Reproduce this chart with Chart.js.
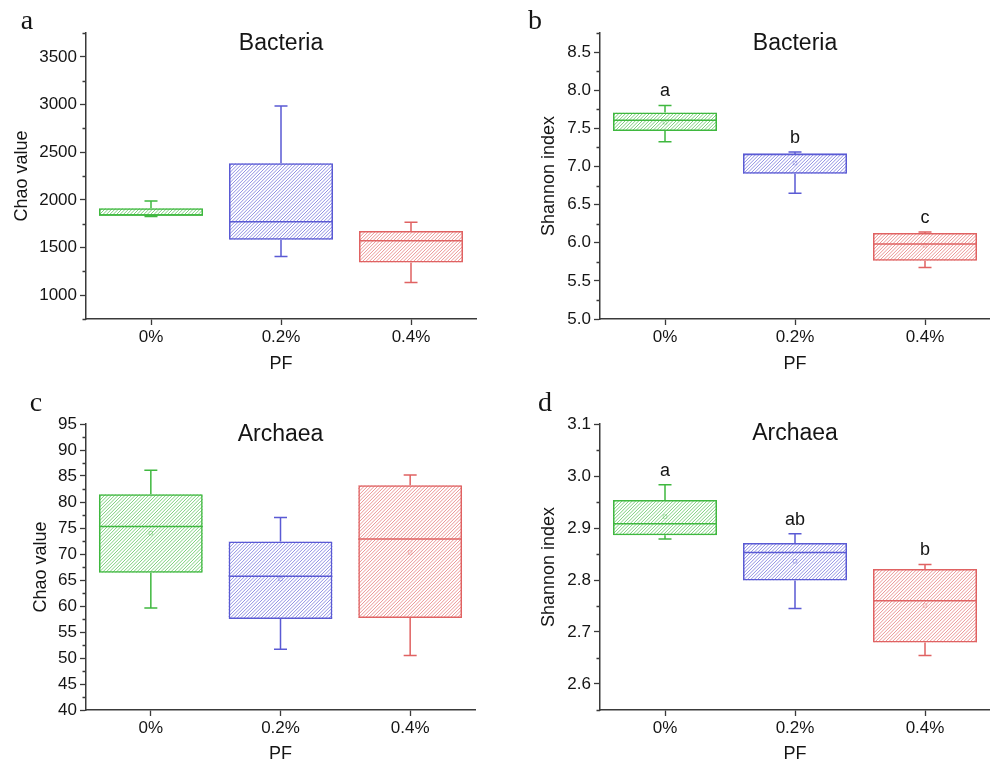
<!DOCTYPE html>
<html><head><meta charset="utf-8">
<script src="https://cdn.jsdelivr.net/npm/chart.js@4.4.0/dist/chart.umd.min.js"></script>
<style>
html,body{margin:0;padding:0;background:#fff;}
#wrap{position:relative;width:990px;height:763px;overflow:hidden;}
canvas{position:absolute;}
</style></head><body>
<div id="wrap">
<canvas id="ca" width="495" height="380" style="left:0;top:0"></canvas>
<canvas id="cb" width="500" height="380" style="left:495px;top:0"></canvas>
<canvas id="cc" width="495" height="383" style="left:0;top:380px"></canvas>
<canvas id="cd" width="500" height="383" style="left:495px;top:380px"></canvas>
</div>
<script>
// ---------- data ----------
const categories = ['0%', '0.2%', '0.4%'];

// a: Bacteria Chao
const chaoBacMin    = [1824, 1405, 1132];
const chaoBacQ1     = [1834, 1580, 1342];
const chaoBacMedian = [1840, 1771, 1572];
const chaoBacQ3     = [1912, 2384, 1674];
const chaoBacMax    = [1988, 2985, 1765];
const chaoBacMean   = [null, null, null];
const chaoBacTicks  = [1000, 1500, 2000, 2500, 3000, 3500];

// b: Bacteria Shannon
const shanBacMin    = [7.325, 6.65, 5.676];
const shanBacQ1     = [7.465, 6.904, 5.764];
const shanBacMedian = [7.605, 7.16, 5.983];
const shanBacQ3     = [7.706, 7.167, 6.127];
const shanBacMax    = [7.80, 7.19, 6.14];
const shanBacMean   = [7.58, 7.045, 5.965];
const shanBacLetters = ['a', 'b', 'c'];
const shanBacTicks  = [5.0, 5.5, 6.0, 6.5, 7.0, 7.5, 8.0, 8.5];

// c: Archaea Chao
const chaoArcMin    = [59.6, 51.7, 50.5];
const chaoArcQ1     = [66.4, 57.5, 57.7];
const chaoArcMedian = [75.3, 65.7, 72.9];
const chaoArcQ3     = [81.5, 72.4, 83.2];
const chaoArcMax    = [86.1, 77.0, 85.2];
const chaoArcMean   = [74.0, 65.2, 70.3];
const chaoArcTicks  = [40, 45, 50, 55, 60, 65, 70, 75, 80, 85, 90, 95];

// d: Archaea Shannon
const shanArcMin    = [2.879, 2.745, 2.655];
const shanArcQ1     = [2.886, 2.799, 2.680];
const shanArcMedian = [2.908, 2.853, 2.760];
const shanArcQ3     = [2.954, 2.871, 2.821];
const shanArcMax    = [2.983, 2.889, 2.830];
const shanArcMean   = [2.922, 2.836, 2.751];
const shanArcLetters = ['a', 'ab', 'b'];
const shanArcTicks  = [2.6, 2.7, 2.8, 2.9, 3.0, 3.1];

// ---------- style ----------
const FONT = 'Arial, "Liberation Sans", Helvetica, sans-serif';
const SERIF = '"Times New Roman", "Liberation Serif", "DejaVu Serif", serif';
const TXT = '#151515';
const AXIS = '#3a3a3a';
const boxColors   = ['#3fb83f', '#5a5ad4', '#e06262'];
const hatchColors = ['rgba(63,184,63,0.8)', 'rgba(90,90,212,0.8)', 'rgba(224,98,98,0.8)'];
const meanColors  = ['rgba(63,184,63,0.35)', 'rgba(90,90,212,0.35)', 'rgba(224,98,98,0.35)'];

const boxPlugin = {
  id: 'boxExtras',
  beforeDatasetsDraw(chart) {
    // diagonal hatch inside each box (bar element geometry from the library)
    const { ctx } = chart;
    const meta = chart.getDatasetMeta(0);
    ctx.save();
    meta.data.forEach((bar, i) => {
      const p = bar.getProps(['x', 'y', 'base', 'width'], true);
      const left = p.x - p.width / 2, right = p.x + p.width / 2;
      const top = Math.min(p.y, p.base), bottom = Math.max(p.y, p.base);
      const h = bottom - top;
      ctx.save();
      ctx.beginPath();
      ctx.rect(left, top, right - left, h);
      ctx.clip();
      ctx.strokeStyle = hatchColors[i];
      ctx.lineWidth = 0.85;
      ctx.beginPath();
      const step = 3.4;
      for (let t = left - h - step; t < right + step; t += step) {
        ctx.moveTo(t, bottom);
        ctx.lineTo(t + h, top);
      }
      ctx.stroke();
      ctx.restore();
    });
    ctx.restore();
  },
  afterDatasetsDraw(chart) {
    const o = chart.options.plugins.boxExtras;
    const { ctx, chartArea } = chart;
    const x = chart.scales.x, y = chart.scales.y;
    const meta = chart.getDatasetMeta(0);
    ctx.save();
    ctx.lineWidth = 1.5;
    o.min.forEach((mn, i) => {
      const bar = meta.data[i];
      const cx = x.getPixelForValue(i);
      const half = bar.width / 2;
      const cap = 6.5;
      const yMin = y.getPixelForValue(mn), yMax = y.getPixelForValue(o.max[i]);
      const yQ1 = y.getPixelForValue(o.q1[i]), yQ3 = y.getPixelForValue(o.q3[i]);
      const yMed = y.getPixelForValue(o.median[i]);
      ctx.strokeStyle = boxColors[i];
      ctx.beginPath();
      ctx.moveTo(cx - half, yMed); ctx.lineTo(cx + half, yMed);
      ctx.moveTo(cx, yQ3); ctx.lineTo(cx, yMax);
      ctx.moveTo(cx - cap, yMax); ctx.lineTo(cx + cap, yMax);
      ctx.moveTo(cx, yQ1); ctx.lineTo(cx, yMin);
      ctx.moveTo(cx - cap, yMin); ctx.lineTo(cx + cap, yMin);
      ctx.stroke();
      if (o.letters) {
        ctx.fillStyle = TXT;
        ctx.font = '18px ' + FONT;
        ctx.textAlign = 'center'; ctx.textBaseline = 'middle';
        ctx.fillText(o.letters[i], cx, yMax - 14);
      }
    });
    // minor ticks on y axis
    ctx.strokeStyle = AXIS; ctx.lineWidth = 1.3;
    ctx.beginPath();
    const majors = y.ticks.map(t => t.value);
    for (let k = 0; ; k++) {
      const v = y.min + k * o.minorStep;
      if (v > y.max + 1e-9) break;
      if (majors.some(m => Math.abs(m - v) < 1e-6)) continue;
      const py = Math.round(y.getPixelForValue(v)) + 0.5;
      ctx.moveTo(chartArea.left - 3.5, py); ctx.lineTo(chartArea.left, py);
    }
    ctx.stroke();
    // panel title
    ctx.fillStyle = TXT;
    ctx.font = '23px ' + FONT;
    ctx.textAlign = 'center'; ctx.textBaseline = 'middle';
    ctx.fillText(o.title, (chartArea.left + chartArea.right) / 2, o.titleY);
    // panel letter
    ctx.font = '28px ' + SERIF;
    ctx.textBaseline = 'alphabetic';
    ctx.fillText(o.letter, o.letterX, o.letterY);
    ctx.restore();
  }
};

function makePanel(id, cfg) {
  const ds = [{
    type: 'bar',
    data: cfg.q1.map((v, i) => [v, cfg.q3[i]]),
    backgroundColor: 'rgba(0,0,0,0)',
    borderColor: boxColors,
    borderWidth: 1.5,
    borderSkipped: false,
    barPercentage: 0.8,
    categoryPercentage: 1.0,
    order: 2
  }, {
    type: 'line',
    data: cfg.mean,
    showLine: false,
    pointStyle: 'rect',
    pointRadius: 2.5,
    pointBorderWidth: 1,
    pointBorderColor: meanColors,
    pointBackgroundColor: 'rgba(0,0,0,0)',
    order: 1
  }];
  const gridBase = { display: true, drawOnChartArea: false, tickLength: 6, tickColor: AXIS, tickWidth: 1.3 };
  return new Chart(document.getElementById(id), {
    type: 'bar',
    data: { labels: categories, datasets: ds },
    plugins: [boxPlugin],
    options: {
      responsive: false,
      animation: false,
      layout: { padding: { top: cfg.padTop, right: cfg.padRight, bottom: 0, left: 0 } },
      plugins: {
        legend: { display: false },
        tooltip: { enabled: false },
        boxExtras: {
          min: cfg.min, q1: cfg.q1, median: cfg.median, q3: cfg.q3, max: cfg.max,
          letters: cfg.letters, minorStep: cfg.minorStep,
          title: cfg.title, titleY: cfg.titleY,
          letter: cfg.letter, letterX: cfg.letterX, letterY: cfg.letterY
        }
      },
      scales: {
        x: {
          type: 'category',
          offset: true,
          grid: Object.assign({}, gridBase, { offset: false }),
          border: { display: true, color: AXIS, width: 1.5 },
          ticks: { color: TXT, font: { size: 17, family: FONT }, padding: 2 },
          title: { display: true, text: 'PF', color: TXT, font: { size: 18, family: FONT }, padding: { top: 0, bottom: cfg.xTitlePad } },
          afterFit: s => { s.height = cfg.xHeight; }
        },
        y: {
          type: 'linear',
          min: cfg.yMin, max: cfg.yMax,
          afterBuildTicks: s => { s.ticks = cfg.ticks.map(v => ({ value: v })); },
          grid: gridBase,
          border: { display: true, color: AXIS, width: 1.5 },
          ticks: { color: TXT, font: { size: 17, family: FONT }, padding: 3,
                   callback: v => cfg.decimals ? Number(v).toFixed(cfg.decimals) : String(v) },
          title: { display: true, text: cfg.yTitle, color: TXT, font: { size: 18, family: FONT }, padding: { top: cfg.yTitlePad, bottom: 0 } },
          afterFit: s => { s.width = cfg.yWidth; }
        }
      }
    }
  });
}

makePanel('ca', {
  min: chaoBacMin, q1: chaoBacQ1, median: chaoBacMedian, q3: chaoBacQ3, max: chaoBacMax, mean: chaoBacMean,
  ticks: chaoBacTicks, yMin: 750, yMax: 3750, minorStep: 250, decimals: 0,
  yTitle: 'Chao value', title: 'Bacteria',
  padTop: 33, padRight: 19, yWidth: 86, xHeight: 61, xTitlePad: 5, yTitlePad: 11,
  titleY: 44, letter: 'a', letterX: 27, letterY: 29
});
makePanel('cb', {
  min: shanBacMin, q1: shanBacQ1, median: shanBacMedian, q3: shanBacQ3, max: shanBacMax, mean: shanBacMean,
  letters: shanBacLetters,
  ticks: shanBacTicks, yMin: 5.0, yMax: 8.75, minorStep: 0.25, decimals: 1,
  yTitle: 'Shannon index', title: 'Bacteria',
  padTop: 33, padRight: 0, yWidth: 105, xHeight: 61, xTitlePad: 5, yTitlePad: 43,
  titleY: 44, letter: 'b', letterX: 40, letterY: 29
});
makePanel('cc', {
  min: chaoArcMin, q1: chaoArcQ1, median: chaoArcMedian, q3: chaoArcQ3, max: chaoArcMax, mean: chaoArcMean,
  ticks: chaoArcTicks, yMin: 40, yMax: 95, minorStep: 2.5, decimals: 0,
  yTitle: 'Chao value', title: 'Archaea',
  padTop: 44, padRight: 20, yWidth: 86, xHeight: 53, xTitlePad: -2, yTitlePad: 30,
  titleY: 55, letter: 'c', letterX: 36, letterY: 31
});
makePanel('cd', {
  min: shanArcMin, q1: shanArcQ1, median: shanArcMedian, q3: shanArcQ3, max: shanArcMax, mean: shanArcMean,
  letters: shanArcLetters,
  ticks: shanArcTicks, yMin: 2.55, yMax: 3.1, minorStep: 0.05, decimals: 1,
  yTitle: 'Shannon index', title: 'Archaea',
  padTop: 44, padRight: 0, yWidth: 105, xHeight: 53, xTitlePad: -2, yTitlePad: 43,
  titleY: 54, letter: 'd', letterX: 50, letterY: 31
});
</script>
</body></html>
